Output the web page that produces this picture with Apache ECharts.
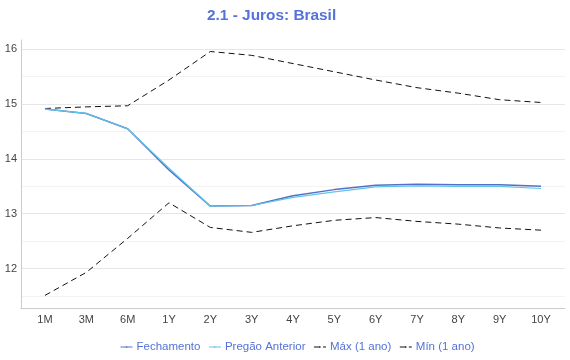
<!DOCTYPE html>
<html><head><meta charset="utf-8">
<script src="https://cdn.jsdelivr.net/npm/echarts@6/dist/echarts.min.js"></script>
<style>html,body{margin:0;padding:0;background:#fff}#c{width:570px;height:360px}</style>
</head><body><div id="c"></div>
<script>
const categories = ['1M','3M','6M','1Y','2Y','3Y','4Y','5Y','6Y','7Y','8Y','9Y','10Y'];
const fechamento = [14.91,14.83,14.55,13.80,13.14,13.15,13.33,13.44,13.52,13.54,13.53,13.53,13.50];
const pregaoAnterior = [14.91,14.83,14.55,13.83,13.14,13.15,13.30,13.40,13.49,13.51,13.50,13.50,13.46];
const maxAno = [14.92,14.95,14.97,15.44,15.96,15.89,15.74,15.59,15.44,15.30,15.20,15.08,15.03];
const minAno = [11.51,11.93,12.55,13.20,12.75,12.66,12.78,12.88,12.93,12.86,12.81,12.74,12.70];
const yTicks = [12,13,14,15,16];

const pts = arr => arr.map((v,i)=>[i,v]);
const font = 'Liberation Sans, Arial, sans-serif';
const chart = echarts.init(document.getElementById('c'));
chart.setOption({
  animation:false,
  title:{text:'2.1 - Juros: Brasil',left:202,top:3,textStyle:{fontFamily:font,fontSize:15.4,fontWeight:'bold',color:'#5472d8'}},
  legend:{top:336,left:115,itemWidth:12,itemHeight:2,itemGap:8,
    lineStyle:{width:1},
    textStyle:{fontFamily:font,fontSize:11.5,color:'#5472d8',padding:[0,0,0,-1]},
    data:['Fechamento','Pregão Anterior',
      {name:'Máx (1 ano)',lineStyle:{type:[6,3]}},
      {name:'Mín (1 ano)',lineStyle:{type:[6,3]}}]},
  grid:{left:21,right:5,top:40,bottom:52,containLabel:false},
  xAxis:{type:'value',min:-0.58,max:12.58,
    axisLine:{show:true,onZero:false,lineStyle:{color:'#ccc'}},
    axisTick:{show:false},
    splitLine:{show:false},
    axisLabel:{customValues:categories.map((c,i)=>i),formatter:v=>categories[Math.round(v)],
      fontFamily:font,fontSize:11,color:'#444',margin:6}},
  yAxis:[{type:'value',min:11.28,max:16.17,splitNumber:5,
    axisLine:{show:true,onZero:false,lineStyle:{color:'#ccc'}},
    axisTick:{show:false},
    axisLabel:{customValues:yTicks,fontFamily:font,fontSize:11,color:'#444',margin:4},
    splitLine:{show:true,showMinLine:false,showMaxLine:false,lineStyle:{color:'#e6e6e6'}},
    z:2},
   {type:'value',min:11.28,max:16.17,splitNumber:10,position:'left',
    axisLine:{show:false,onZero:false},axisTick:{show:false},axisLabel:{show:false},
    splitLine:{show:true,showMinLine:false,showMaxLine:false,lineStyle:{color:'#f3f3f3'}},z:1}],
  series:[
    {name:'Fechamento',type:'line',data:pts(fechamento),symbol:'none',lineStyle:{width:1.5,color:'#5470c6'},itemStyle:{color:'#5470c6'},z:4},
    {name:'Pregão Anterior',type:'line',data:pts(pregaoAnterior),symbol:'none',lineStyle:{width:1.2,color:'#5fc6e8'},itemStyle:{color:'#5fc6e8'},z:5},
    {name:'Máx (1 ano)',type:'line',data:pts(maxAno),symbol:'none',lineStyle:{width:1,color:'#111',type:[6,4]},itemStyle:{color:'#111'},z:3},
    {name:'Mín (1 ano)',type:'line',data:pts(minAno),symbol:'none',lineStyle:{width:1,color:'#111',type:[6,4]},itemStyle:{color:'#111'},z:3}
  ]
});
</script></body></html>
